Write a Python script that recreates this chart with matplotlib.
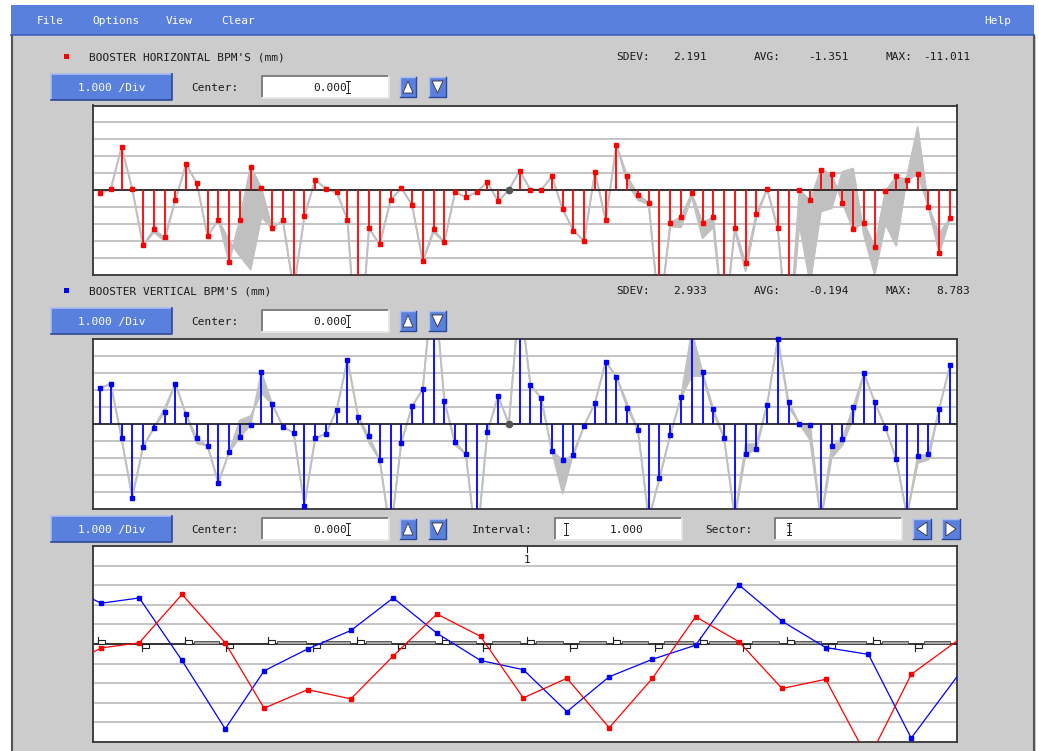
import numpy as np
import matplotlib.pyplot as plt
from matplotlib.patches import Rectangle, Polygon

W, H = 1039, 751
MONO = 'DejaVu Sans Mono'
BLUE = '#5a80de'
PANEL = '#cccccc'
BAND = '#c0c0c0'
GRID = '#bababa'

# --- orbit data (mm), 80 BPMs ---
horiz_orbit = [-0.20, 0.06, 2.53, 0.06, -3.27, -2.33, -2.80, -0.61, 1.53, 0.39,
               -2.75, -1.75, -4.27, -1.75, 1.39, 0.12, -2.27, -1.80, -5.90, -1.55,
               0.61, 0.06, -0.14, -1.75, -11.01, -2.27, -3.22, -0.61, 0.12, -0.88,
               -4.22, -2.33, -3.08, -0.14, -0.41, -0.14, 0.47, -0.67, 0.00, 1.14,
               0.02, 0.00, 0.80, -1.14, -2.41, -3.02, 1.08, -1.80, 2.67, 0.80,
               -0.27, -0.75, -7.50, -1.94, -1.61, -0.20, -1.94, -1.61, -8.20, -2.22,
               -4.33, -1.41, 0.06, -2.22, -9.40, 0.00, -0.61, 1.20, 0.94, -0.75,
               -2.33, -1.94, -3.35, -0.08, 0.80, 0.59, 0.94, -1.00, -3.75, -1.67]

horiz_ref = [-0.20, 0.06, 2.53, 0.06, -3.30, -2.50, -3.00, -0.61, 1.53, 0.39,
             -2.75, -1.75, -3.00, -3.90, -4.70, -1.60, -2.27, -1.80, -5.90, -1.55,
             0.61, 0.06, -0.14, -1.75, -11.01, -2.27, -3.22, -0.61, 0.12, -0.88,
             -4.22, -2.50, -3.08, -0.14, -0.41, -0.14, 0.47, -0.67, 0.00, 1.14,
             0.02, 0.00, 0.80, -1.14, -2.41, -3.02, 1.08, -1.80, 2.67, 0.40,
             -0.60, -0.85, -7.50, -2.15, -2.20, -0.40, -2.85, -2.20, -8.20, -2.40,
             -4.80, -1.65, 0.06, -2.40, -9.40, -2.00, -5.50, -1.27, -1.08, 1.08,
             1.27, -2.65, -5.00, -2.00, -3.30, 0.80, 3.72, -1.00, -2.55, -1.70]

vert_orbit = [2.08, 2.35, -0.84, -4.33, -1.37, -0.25, 0.69, 2.35, 0.55, -0.84,
              -1.31, -3.45, -1.67, -0.78, -0.06, 3.02, 1.16, -0.18, -0.53, -4.80,
              -0.84, -0.59, 0.82, 3.75, 0.41, -0.73, -2.12, -6.50, -1.12, 1.02,
              2.02, 8.78, 1.35, -1.06, -1.78, -7.20, -0.51, 1.63, 0.00, 7.60,
              2.29, 1.49, -1.59, -2.12, -1.86, -0.12, 1.22, 3.63, 2.76, 0.94,
              -0.39, -5.60, -3.20, -0.67, 1.55, 5.40, 3.02, 0.88, -0.84, -5.50,
              -1.78, -1.51, 1.10, 4.98, 1.29, 0.00, -0.06, -5.70, -1.33, -0.90,
              0.96, 2.96, 1.29, -0.25, -2.06, -5.40, -1.92, -1.78, 0.88, 3.43]

vert_ref = [2.08, 2.35, -0.84, -4.33, -1.37, -0.25, 0.90, 2.35, 0.55, -1.15,
            -1.31, -3.45, -1.67, 0.20, 0.45, 1.80, 1.16, -0.18, -0.53, -4.80,
            -0.84, -0.59, 0.82, 3.75, 0.41, -1.10, -2.12, -6.50, -1.12, 1.02,
            2.02, 8.78, 1.35, -1.25, -1.78, -7.20, -0.51, 1.63, 0.00, 7.60,
            2.29, 1.49, -1.59, -4.08, -1.70, -0.12, 1.22, 3.63, 2.76, 1.20,
            -0.39, -5.60, -3.20, -0.67, 1.55, 2.80, 2.80, 0.65, -0.84, -5.50,
            -1.20, -1.20, 1.10, 4.98, 1.00, 0.00, -0.95, -5.70, -2.00, -1.25,
            0.35, 2.96, 1.29, -0.25, -2.06, -5.40, -2.30, -2.10, 0.88, 3.43]

dead_bpms = [38]

# sector 1 view: previous BPM (79), BPMs 0..20 at their positions along the sector
sector_pos = [-1.08, 0.19, 1.07, 2.06, 3.06, 3.96, 4.97, 5.97, 6.95, 7.96, 8.97,
              9.96, 10.97, 11.95, 12.95, 13.95, 14.95, 15.95, 16.96, 17.95, 18.94, 20.28]
sector_bpms = [79] + list(range(21))
quad_pos = [0.12, 1.13, 2.13, 3.08, 4.05, 5.09, 6.11, 7.06, 8.08, 9.03, 10.05,
            11.04, 12.04, 13.01, 14.05, 15.05, 16.06, 17.02, 18.06, 19.03, 20.0]
dipole_gaps = [2] + list(range(4, 20))

horiz_stats = ['2.191', '-1.351', '-11.011']
vert_stats = ['2.933', '-0.194', '8.783']
menu_items = [('File', 37), ('Options', 92), ('View', 166), ('Clear', 221), ('Help', 984)]

fig = plt.figure(figsize=(W / 100, H / 100), dpi=100)
fig.patch.set_facecolor('white')
bg = fig.add_axes([0, 0, 1, 1])
bg.set_xlim(0, W)
bg.set_ylim(H, 0)
bg.axis('off')


def rect(x0, y0, x1, y1, fc, ec='none', lw=0, z=1):
    bg.add_patch(Rectangle((x0, y0), x1 - x0, y1 - y0, facecolor=fc,
                           edgecolor=ec, lw=lw, zorder=z))


def bevel(x0, y0, x1, y1, light, dark, lw=1.0):
    bg.plot([x0, x0, x1], [y1, y0, y0], color=light, lw=lw, zorder=3)
    bg.plot([x0, x1, x1], [y1, y1, y0], color=dark, lw=lw, zorder=3)


def label(x, y, s, ha='left', color='#1a1a1a'):
    bg.text(x, y, s, ha=ha, va='center', color=color, fontsize=8,
            family=MONO, zorder=5)


def button(x0, y0, x1, y1, text):
    rect(x0, y0, x1, y1, BLUE, z=2)
    bevel(x0, y0, x1, y1, '#a9bdf3', '#2d4898', lw=1.2)
    label((x0 + x1) / 2, (y0 + y1) / 2 + 1, text, ha='center', color='white')


def field(x0, y0, x1, y1):
    rect(x0, y0, x1, y1, 'white', z=2)
    bevel(x0, y0, x1, y1, '#777777', '#e6e6e6', lw=1.3)


def ibeam(x, yc):
    bg.plot([x, x], [yc - 6, yc + 6], color='#222', lw=0.7, zorder=6)
    bg.plot([x - 2, x + 2], [yc - 6, yc - 6], color='#222', lw=0.7, zorder=6)
    bg.plot([x - 2, x + 2], [yc + 6, yc + 6], color='#222', lw=0.7, zorder=6)


def arrow_button(x0, y0, x1, y1, direction):
    rect(x0, y0, x1, y1, BLUE, z=2)
    bevel(x0, y0, x1, y1, '#a9bdf3', '#2d4898', lw=1.0)
    cx, cy = (x0 + x1) / 2, (y0 + y1) / 2
    if direction == 'up':
        pts = [(x0 + 3, y1 - 4), (x1 - 3, y1 - 4), (cx, y0 + 4)]
    elif direction == 'down':
        pts = [(x0 + 3, y0 + 4), (x1 - 3, y0 + 4), (cx, y1 - 4)]
    elif direction == 'left':
        pts = [(x1 - 4, y0 + 3), (x1 - 4, y1 - 3), (x0 + 4, cy)]
    else:
        pts = [(x0 + 4, y0 + 3), (x0 + 4, y1 - 3), (x1 - 4, cy)]
    bg.add_patch(Polygon(pts, closed=True, facecolor='white', edgecolor='#333',
                         lw=0.6, zorder=4))


def control_row(yc):
    button(51, yc - 13, 172, yc + 13, '1.000 /Div')
    label(191, yc + 1, 'Center:')
    field(262, yc - 11, 389, yc + 11)
    label(347, yc + 1, '0.000', ha='right')
    ibeam(348, yc)
    arrow_button(400, yc - 10, 416, yc + 10, 'up')
    arrow_button(429, yc - 10, 446, yc + 10, 'down')


def header(yc, color, title, stats):
    rect(64, yc - 3, 69, yc + 2, color, z=3)
    label(89, yc, title)
    label(616, yc, 'SDEV:')
    label(707, yc, stats[0], ha='right')
    label(754, yc, 'AVG:')
    label(849, yc, stats[1], ha='right')
    label(886, yc, 'MAX:')
    label(970, yc, stats[2], ha='right')


# window chrome
rect(11, 36, 1036, H, PANEL, z=0)
bg.plot([12, 12], [36, H], color='#555555', lw=1.5, zorder=1)
bg.plot([1034, 1034], [36, H], color='#555555', lw=1.5, zorder=1)
rect(11, 5, 1034, 35, BLUE, z=1)
bg.plot([11, 1034], [35, 35], color='#3b5bb5', lw=1.2, zorder=2)
for name, x in menu_items:
    label(x, 21, name, color='white')

header(57, 'red', "BOOSTER HORIZONTAL BPM'S (mm)", horiz_stats)
control_row(87)
header(291, 'blue', "BOOSTER VERTICAL BPM'S (mm)", vert_stats)
control_row(321)
control_row(529)
label(472, 530, 'Interval:')
field(555, 518, 682, 540)
label(643, 530, '1.000', ha='right')
ibeam(566, 529)
label(705, 530, 'Sector:')
field(775, 518, 902, 540)
label(786, 530, '1')
ibeam(789, 529)
arrow_button(913, 519, 931, 539, 'left')
arrow_button(942, 519, 960, 539, 'right')


def px_axes(left, top, right, bottom):
    ax = fig.add_axes([left / W, 1 - bottom / H, (right - left) / W, (bottom - top) / H])
    ax.set_facecolor('white')
    ax.set_ylim(-5, 5)
    ax.set_xticks([])
    ax.set_yticks([])
    for sp in ax.spines.values():
        sp.set_color('#353535')
        sp.set_linewidth(1.3)
    for k in range(-4, 5):
        if k != 0:
            ax.axhline(k, color=GRID, lw=1.2, zorder=0)
    ax.axhline(0, color='#222222', lw=1.3, zorder=3)
    return ax


def orbit_panel(ax, cur, ref, color):
    cur = np.array(cur)
    ref = np.array(ref)
    idx = np.arange(len(cur))
    ax.set_xlim(-0.65, len(cur) - 0.35)
    ax.fill_between(idx, cur, ref, color=BAND, lw=0, zorder=1)
    ax.plot(idx, cur, color=BAND, lw=1.3, zorder=1)
    ax.plot(idx, ref, color=BAND, lw=1.3, zorder=1)
    live = np.array([i for i in idx if i not in dead_bpms])
    ax.vlines(live, 0, cur[live], color=color, lw=1.3, zorder=4)
    shown = live[np.abs(cur[live]) <= 5.02]
    ax.plot(shown, cur[shown], 's', ms=3, color=color, zorder=5, clip_on=False)
    ax.plot(dead_bpms, [0] * len(dead_bpms), 'o', ms=4.5, color='#555555', zorder=5)


ax1 = px_axes(93, 105.5, 957, 274.5)
orbit_panel(ax1, horiz_orbit, horiz_ref, 'red')

ax2 = px_axes(93, 338.5, 957, 509)
orbit_panel(ax2, vert_orbit, vert_ref, 'blue')

# sector view with lattice
ax3 = px_axes(93, 546, 957, 742)
ax3.set_xlim(0, 20)
for k in dipole_gaps:
    ax3.add_patch(Rectangle((quad_pos[k] + 0.2, 0), quad_pos[k + 1] - quad_pos[k] - 0.37, 0.15,
                            facecolor='#a6a6a6', edgecolor='#444444', lw=0.6, zorder=3))
for i, q in enumerate(quad_pos):
    sgn = 1 if i % 2 == 0 else -1
    ax3.add_patch(Rectangle((q, 0), 0.16, 0.22 * sgn, facecolor='white',
                            edgecolor='#222222', lw=0.8, zorder=3))
    ax3.plot([q, q], [0, 0.38 * sgn], color='#222222', lw=0.8, zorder=3)
red_sec = [horiz_orbit[i] for i in sector_bpms]
blue_sec = [vert_orbit[i] for i in sector_bpms]
ax3.plot(sector_pos, blue_sec, '-s', color='blue', lw=0.9, ms=2.5, zorder=4)
ax3.plot(sector_pos, red_sec, '-s', color='red', lw=0.9, ms=2.5, zorder=4)
ax3.plot([quad_pos[10], quad_pos[10]], [5, 4.7], color='#222222', lw=0.8)
ax3.text(quad_pos[10], 4.3, '1', ha='center', va='center', fontsize=8, family=MONO,
         color='#1a1a1a')

fig.savefig('out.png', dpi=100)
